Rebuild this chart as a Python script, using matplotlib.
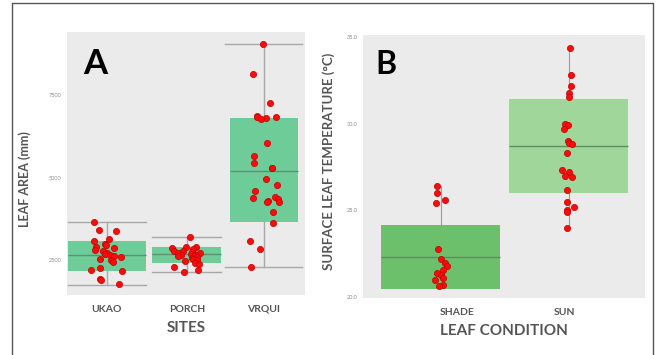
"""Leaf area by site (A) and leaf temperature by condition (B)."""
import matplotlib
matplotlib.use("Agg")
import matplotlib.pyplot as plt
from matplotlib.lines import Line2D
import numpy as np

plt.rcParams["font.family"] = ["Lato", "DejaVu Sans"]

# --- panel A: leaf area per site ---
sites = ["UKAO", "PORCH", "VRQUI"]
ukao = [3650, 3420, 3380, 3150, 3080, 3000, 2950, 2900, 2870, 2800, 2760, 2720,
        2680, 2650, 2620, 2580, 2540, 2500, 2450, 2250, 2200, 2180, 1920, 1880, 1770]
porch = [3200, 2900, 2880, 2850, 2820, 2780, 2760, 2740, 2720, 2700, 2680, 2660,
         2650, 2630, 2610, 2590, 2560, 2540, 2500, 2460, 2420, 2380, 2300, 2200, 2150]
vrqui = [9040, 8140, 7250, 6850, 6830, 6820, 6800, 6780, 6050, 5650, 5450, 5300,
         5280, 4950, 4770, 4600, 4420, 4380, 4350, 4300, 4270, 4260, 3960, 3630,
         3090, 2830, 2300]
a_q1 = [2180, 2420, 3640]
a_med = [2640, 2680, 5200]
a_q3 = [3090, 2900, 6800]
a_lo = [1745, 2145, 2290]
a_hi = [3640, 3190, 9050]
a_ticks = [2500, 5000, 7500]

# --- panel B: surface leaf temperature per condition ---
conditions = ["SHADE", "SUN"]
shade = [26.4, 26.0, 25.6, 25.4, 22.75, 22.2, 21.95, 21.8, 21.56, 21.4, 21.27,
         21.1, 20.98, 20.7, 20.6]
sun = [34.4, 32.8, 32.2, 31.8, 31.55, 30.0, 29.9, 29.7, 29.0, 28.9, 28.85, 28.3,
       27.3, 27.2, 27.0, 26.9, 26.2, 25.5, 25.2, 25.0, 24.9, 23.96]
b_q1 = [20.44, 26.0]
b_med = [22.3, 28.7]
b_q3 = [24.15, 31.43]
b_lo = [20.44, 23.96]
b_hi = [26.4, 34.4]
b_ticks = [20.0, 25.0, 30.0, 35.0]

BG = "#ebebeb"
LABEL_C = "#555555"
TICK_C = "#8a8a8a"


def _stats(q1, med, q3, lo, hi):
    return [dict(q1=a, med=b, q3=c, whislo=d, whishi=e, fliers=[])
            for a, b, c, d, e in zip(q1, med, q3, lo, hi)]


def _strip(ax, groups, positions, spread, rng):
    for vals, pos in zip(groups, positions):
        xs = pos + rng.uniform(-spread, spread, len(vals))
        ax.scatter(xs, vals, s=20, color="#ff0a0a", edgecolor="#c00000",
                   linewidth=0.5, zorder=5)


def _style(ax):
    ax.set_facecolor(BG)
    for sp in ax.spines.values():
        sp.set_visible(False)
    ax.tick_params(axis="y", length=0, labelsize=4, labelcolor=TICK_C, pad=4)
    ax.tick_params(axis="x", length=0, labelsize=7.5, labelcolor=LABEL_C, pad=7)
    for lab in ax.get_xticklabels():
        lab.set_fontweight("bold")


fig = plt.figure(figsize=(6.61, 3.55), dpi=100)
rng = np.random.default_rng(3)

# panel A
ax_a = fig.add_axes([0.101, 0.169, 0.360, 0.741])
pos_a = [0.0, 1.02, 2.0]
bp = ax_a.bxp(_stats(a_q1, a_med, a_q3, a_lo, a_hi), positions=pos_a,
              widths=[1.0, 0.88, 0.87], capwidths=[1.0, 0.88, 0.98],
              patch_artist=True, showfliers=False,
              boxprops=dict(facecolor="#6dcc97", edgecolor="none"),
              medianprops=dict(color="#5b9275", linewidth=1.0),
              whiskerprops=dict(color="#a8a8a8", linewidth=1.0),
              capprops=dict(color="#a8a8a8", linewidth=1.0))
_strip(ax_a, [ukao, porch, vrqui], pos_a, 0.2, rng)
ax_a.set_xlim(-0.51, 2.52)
ax_a.set_ylim(1440, 9410)
ax_a.set_yticks(a_ticks)
ax_a.set_yticklabels([str(t) for t in a_ticks])
ax_a.set_xticks(pos_a)
ax_a.set_xticklabels(sites)
_style(ax_a)
ax_a.set_ylabel("LEAF AREA (mm)", fontsize=9, fontweight="bold", color=LABEL_C)
ax_a.yaxis.set_label_coords(-0.15, 0.44)
ax_a.set_xlabel("SITES", fontsize=11, fontweight="bold", color=LABEL_C, labelpad=5)
ax_a.text(0.07, 0.94, "A", transform=ax_a.transAxes, fontsize=25,
          fontweight="bold", va="top", ha="left", color="black")

# panel B
ax_b = fig.add_axes([0.549, 0.161, 0.427, 0.740])
pos_b = [0.0, 1.0]
bp_b = ax_b.bxp(_stats(b_q1, b_med, b_q3, b_lo, b_hi), positions=pos_b,
                widths=0.93, showcaps=False, patch_artist=True, showfliers=False,
                boxprops=dict(edgecolor="none"),
                medianprops=dict(color="#5a8f5a", linewidth=1.0),
                whiskerprops=dict(color="#9a9a9a", linewidth=0.8))
for patch, col in zip(bp_b["boxes"], ["#6cc06b", "#a0d69a"]):
    patch.set_facecolor(col)
_strip(ax_b, [shade, sun], pos_b, 0.05, rng)
ax_b.set_xlim(-0.61, 1.60)
ax_b.set_ylim(19.94, 35.12)
ax_b.set_yticks(b_ticks)
ax_b.set_yticklabels([f"{t:.1f}" for t in b_ticks])
ax_b.set_xticks([0.13, 0.97])
ax_b.set_xticklabels(conditions)
_style(ax_b)
ax_b.set_ylabel("SURFACE LEAF TEMPERATURE (°C)", fontsize=9.5,
                fontweight="bold", color=LABEL_C)
ax_b.yaxis.set_label_coords(-0.10, 0.52)
ax_b.set_xlabel("LEAF CONDITION", fontsize=11, fontweight="bold", color=LABEL_C,
                labelpad=5)
ax_b.text(0.045, 0.945, "B", transform=ax_b.transAxes, fontsize=23,
          fontweight="bold", va="top", ha="left", color="black")

# outer frame (left, top, right)
fx = [12 / 661, 12 / 661, 653 / 661, 653 / 661]
fy = [0.0, 1 - 3 / 355, 1 - 3 / 355, 0.0]
fig.add_artist(Line2D(fx, fy, transform=fig.transFigure, color="#555555",
                      linewidth=1.0))

fig.savefig("out.png", dpi=100)
